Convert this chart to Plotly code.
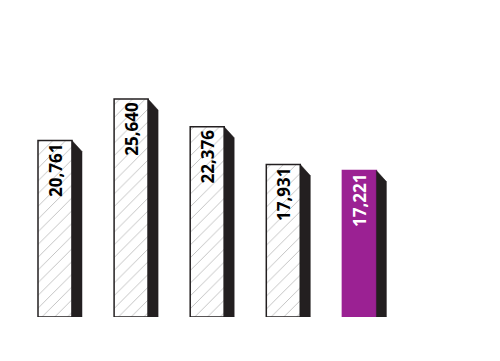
import plotly.graph_objects as go

categories = ["A", "B", "C", "D", "E"]
values = [20761, 25640, 22376, 17931, 17221]
labels = ["20,761", "25,640", "22,376", "17,931", "17,221"]
highlight = [False, False, False, False, True]

W, H = 500, 361
off = 8  # page body margin
px_per_unit_x = 76.1
x0_px = 55 - off
bar_w = 34 / px_per_unit_x
depth = 10 / px_per_unit_x
plot_top, plot_bottom = 12, 317 - off
y_scale = 0.0085  # px per unit
y_max = (plot_bottom - plot_top) / y_scale
slant = 11 / y_scale

xs = list(range(len(categories)))
purple = "#9b2193"
dark = "#231f20"

fig = go.Figure()

# side faces (3D effect) computed from data
for x, v in zip(xs, values):
    xr = x + bar_w / 2
    fig.add_trace(go.Scatter(
        x=[xr, xr, xr + depth, xr + depth, xr],
        y=[0, v, v - slant, 0, 0],
        fill="toself", fillcolor=dark, mode="lines",
        line=dict(color=dark, width=0.5), hoverinfo="skip", showlegend=False))

colors = [purple if h else "white" for h in highlight]
fgcolors = [purple if h else "#b4b4b4" for h in highlight]
textcolors = ["white" if h else "black" for h in highlight]

fig.add_trace(go.Bar(
    x=xs, y=values, width=bar_w,
    marker=dict(color=colors,
                line=dict(color=[purple if h else dark for h in highlight], width=1.5),
                pattern=dict(shape=["" if h else "/" for h in highlight],
                             fgcolor=fgcolors, bgcolor=colors, size=9, solidity=0.07)),
    text=labels, textposition="inside", insidetextanchor="end", textangle=-90,
    textfont=dict(family="Open Sans", size=17, color=textcolors, weight="bold"),
    showlegend=False, hoverinfo="skip"))

fig.update_layout(
    width=W - off, height=H - off,
    margin=dict(l=0, r=0, t=plot_top, b=(H - off) - plot_bottom),
    paper_bgcolor="white", plot_bgcolor="white",
    xaxis=dict(range=[-x0_px / px_per_unit_x, (W - off - x0_px) / px_per_unit_x],
               visible=False, fixedrange=True),
    yaxis=dict(range=[0, y_max], visible=False, fixedrange=True),
)

fig.write_html("out.html")
